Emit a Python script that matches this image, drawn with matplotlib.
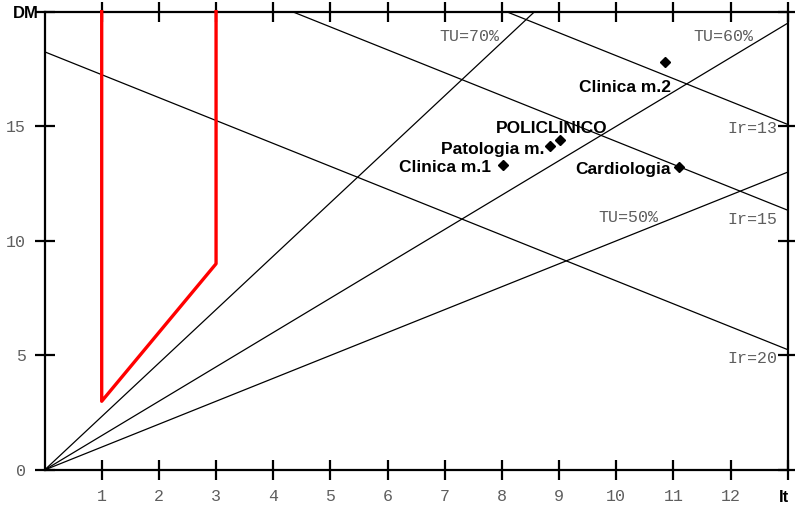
import numpy as np
import matplotlib
matplotlib.use("Agg")
import matplotlib.pyplot as plt

# Barber-Johnson diagram: interval of turnover (It) vs. mean stay (DM)
ward_names = ["Clinica m.2", "POLICLINICO", "Patologia m.", "Clinica m.1", "Cardiologia"]
ward_it = [10.86, 9.02, 8.84, 8.02, 11.09]
ward_dm = [17.81, 14.41, 14.12, 13.33, 13.20]

tu_levels = [0.50, 0.60, 0.70]      # bed occupancy rate
ir_levels = [13, 15, 20]            # turnover index (patients per bed per year)
days_per_year = 365

# efficiency area
area_it = [1, 1, 3, 3]
area_dm = [20, 3, 9, 20]

x_ticks = list(range(1, 14))
y_ticks = [0, 5, 10, 15, 20]

mono = "Liberation Mono"
sans = "Liberation Sans"
grey = "#5e5e5e"

fig = plt.figure(figsize=(7.95, 5.11), dpi=100)
ax = fig.add_axes([0.056, 0.0802, 0.935, 0.897])
ax.set_xlim(0, 13)
ax.set_ylim(0, 20)

for tu in tu_levels:
    ax.axline((0, 0), slope=tu / (1 - tu), color="black", lw=0.9)
for ir in ir_levels:
    ax.axline((0, days_per_year / ir), slope=-1, color="black", lw=0.9)

ax.plot(area_it, area_dm, color="#ff0000", lw=2.4, clip_on=False, zorder=3)

ax.plot(ward_it, ward_dm, "D", color="black", ms=5.5, zorder=4)

# label offsets in pixels (dx, dy) relative to the marker
label_offsets = [(6, -26), (47, 11), (-5, -3), (-12, -3), (-8, -2)]
for name, x, y, (dx, dy) in zip(ward_names, ward_it, ward_dm, label_offsets):
    ax.annotate(name, (x, y), xytext=(dx, dy), textcoords="offset pixels",
                ha="right", va="center", fontsize=12.5, fontweight="bold",
                family=sans)

# iso-line captions
ax.text(7.95, 18.93, "TU=70%", ha="right", va="center", family=mono,
        fontsize=12, color=grey)
ax.text(12.40, 18.93, "TU=60%", ha="right", va="center", family=mono,
        fontsize=12, color=grey)
ax.text(10.74, 11.03, "TU=50%", ha="right", va="center", family=mono,
        fontsize=12, color=grey)
ax.text(12.82, 14.92, "Ir=13", ha="right", va="center", family=mono,
        fontsize=12, color=grey)
ax.text(12.82, 10.95, "Ir=15", ha="right", va="center", family=mono,
        fontsize=12, color=grey)
ax.text(12.82, 4.88, "Ir=20", ha="right", va="center", family=mono,
        fontsize=12, color=grey)

for side in ["left", "right", "top", "bottom"]:
    ax.spines[side].set_linewidth(1.6)

ax.set_xticks(x_ticks)
ax.set_xticklabels([str(t) if t < 13 else "" for t in x_ticks])
ax.set_yticks(y_ticks)
ax.set_yticklabels([str(t) if t < 20 else "" for t in y_ticks])
ax.tick_params(direction="inout", length=15, width=1.6, top=True, right=True,
               labelsize=12, labelcolor=grey, pad=6)
for lab in ax.get_xticklabels() + ax.get_yticklabels():
    lab.set_family(mono)

fig.text(39 / 795, 1 - 14 / 511, "DM", ha="right", va="center",
         fontsize=12, fontweight="bold", family=sans)
fig.text(784 / 795, 1 - 498 / 511, "It", ha="center", va="center",
         fontsize=12, fontweight="bold", family=sans)

fig.savefig("out.png", dpi=100)
